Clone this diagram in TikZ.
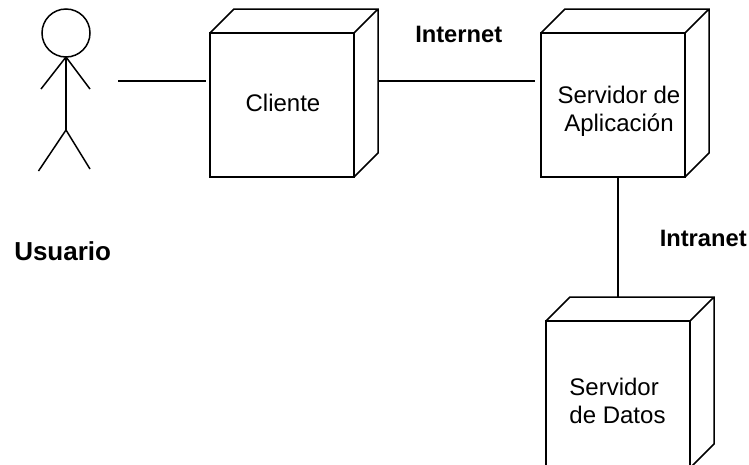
\documentclass[tikz,border=0pt]{standalone}
\usepackage{fontspec}
\setmainfont{Liberation Sans}
\usetikzlibrary{positioning}
\tikzset{
despliegue/.style={x=1pt,y=-1pt,line width=1.5pt,line join=miter},
caja/.style={rectangle,draw,minimum size=144pt,inner sep=0pt,outer sep=0pt},
texto/.style={inner sep=0pt,align=#1,font=\fontsize{24}{28}\selectfont},
texto/.default={center},
enlace/.style={font=\fontsize{23.7}{27}\selectfont\bfseries,inner sep=0pt,anchor=base west},
}
\begin{document}
\begin{tikzpicture}[despliegue]
                    \useasboundingbox (0,0) rectangle (749,464);
                    \clip (0,0) rectangle (749,464);
                    % actor
                    \node[circle,draw,minimum size=48pt,inner sep=0pt,outer sep=0pt] (cabeza) at (66,33) {};
                    \coordinate (cadera) at (66,130);
                    \coordinate (mano) at (118,81);
                    \draw (cabeza.south) -- (cadera);
                    \draw (cabeza.south) -- (41,89);
                    \draw (cabeza.south) -- (90,89);
                    \draw (cadera) -- (38.5,171);
                    \draw (cadera) -- (90,169);
                    \node[enlace,font=\fontsize{26}{30}\selectfont\bfseries] (usuario) at (13.5,260) {Usuario};

                    \node[caja] (cliente) at (282,105) {};
                    \node[caja,right=187pt of cliente] (aplicacion) {};
                    \node[caja,minimum height=147pt] (datos) at (618,394.5) {};
                    % caras de fondo
                    \foreach \c in {cliente,aplicacion,datos}
                        \draw (\c.north west) -- ++(24pt,24pt) -| ([shift={(24pt,24pt)}]\c.south east) -- (\c.south east)
                            (\c.north east) -- ++(24pt,24pt) (\c.north east) -- (\c.south east);

                    \node[texto] (t cliente) at (283,103) {Cliente};
                    \node[texto] (t aplicacion) at (619,111) {Servidor de\\Aplicación};
                    \node[texto=left] (t datos) at (617.5,400.5) {Servidor\\de Datos};

                    \node[enlace] (internet) at (414.5,42) {Internet};
                    \node[enlace] (intranet) at (659,246) {Intranet};

                    \draw[shorten >=4pt] (mano) -- (mano -| cliente.west);
                    \draw[shorten >=6pt] ([shift={(24pt,24pt)}]cliente.east) -- ([yshift=24pt]aplicacion.west);
                    \draw (datos.north |- aplicacion.south) -- ([yshift=24pt]datos.north);
                \end{tikzpicture}
\end{document}
